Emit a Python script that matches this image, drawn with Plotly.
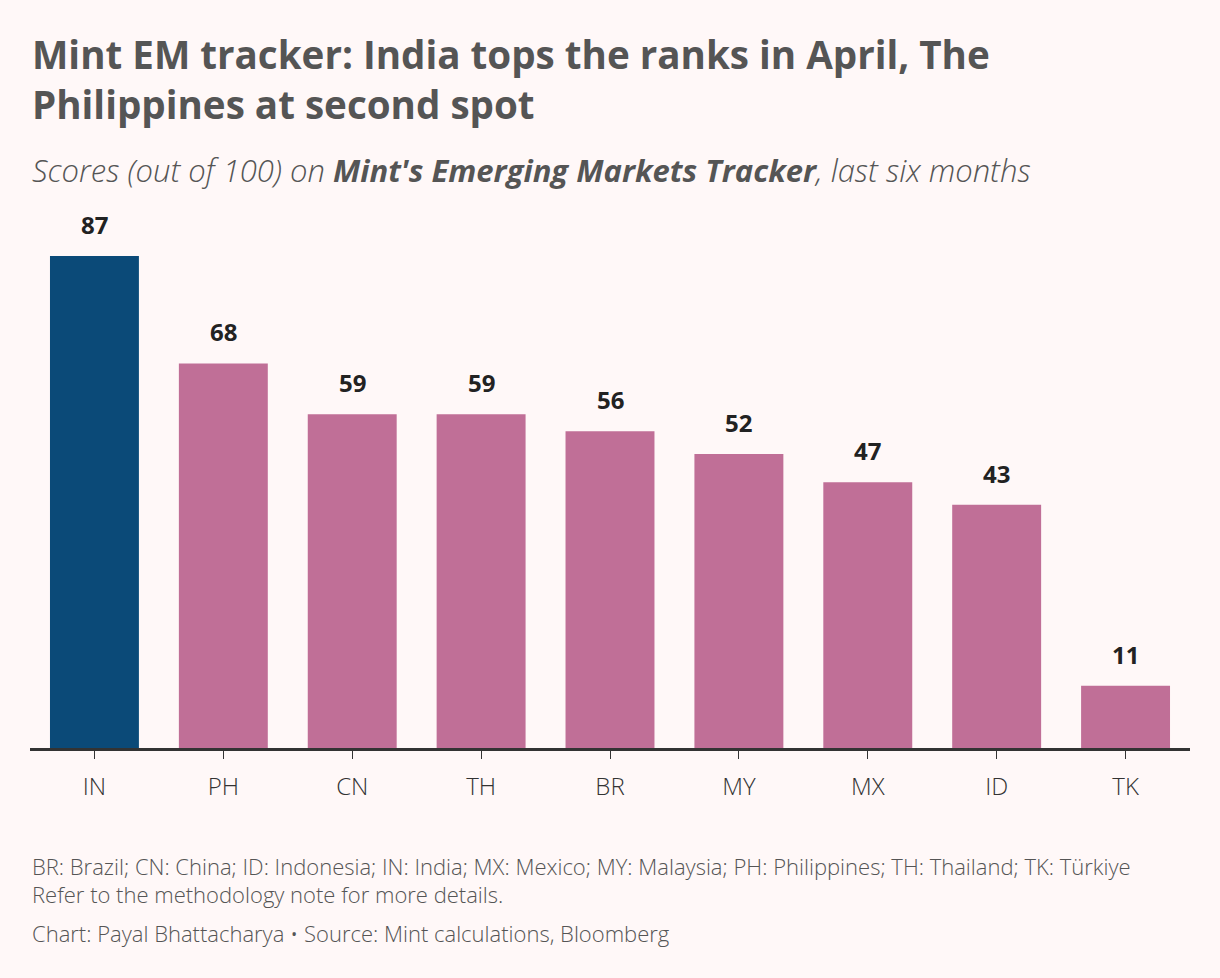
import plotly.graph_objects as go

categories = ["IN", "PH", "CN", "TH", "BR", "MY", "MX", "ID", "TK"]
scores = [87, 68, 59, 59, 56, 52, 47, 43, 11]
highlight = "IN"

NAVY = "#0b4a78"
PINK = "#c06f97"
BG = "#fff8f8"

colors = [NAVY if c == highlight else PINK for c in categories]

W, H = 1220, 978
top_px, bot_px = 215, 748
plot_h = bot_px - top_px

def py(px):
    return (bot_px - px) / plot_h

fig = go.Figure(go.Bar(
    x=categories, y=scores, marker=dict(color=colors, line=dict(width=0)),
    hoverinfo="skip",
))

ann = []
for c, v in zip(categories, scores):
    ann.append(dict(x=c, y=v, xref="x", yref="y", text=f"<b>{v}</b>", showarrow=False,
                    yanchor="bottom", yshift=13,
                    font=dict(family="Open Sans", size=24, color="#222222")))

ann.append(dict(x=0, y=py(26), xref="paper", yref="paper", xanchor="left", yanchor="top",
                align="left", showarrow=False,
                text="<b>Mint EM tracker: India tops the ranks in April, The<br>Philippines at second spot</b>",
                font=dict(family="Open Sans", size=38.6, color="#555555")))
ann.append(dict(x=0, y=py(170), xref="paper", yref="paper", xanchor="left", yanchor="middle",
                align="left", showarrow=False,
                text="<i>Scores (out of 100) on </i><b><i>Mint's Emerging Markets Tracker</i></b><i>, last six months</i>",
                font=dict(family="Open Sans", size=31, color="#555555", weight=300)))
foot_font = dict(family="Open Sans", size=22, color="#555555", weight=300)
ann.append(dict(x=0, y=py(866), xref="paper", yref="paper", xanchor="left", yanchor="middle",
                align="left", showarrow=False,
                text="BR: Brazil; CN: China; ID: Indonesia; IN: India; MX: Mexico; MY: Malaysia; PH: Philippines; TH: Thailand; TK: Türkiye",
                font=foot_font))
ann.append(dict(x=0, y=py(894), xref="paper", yref="paper", xanchor="left", yanchor="middle",
                align="left", showarrow=False,
                text="Refer to the methodology note for more details.",
                font=foot_font))
ann.append(dict(x=0, y=py(933), xref="paper", yref="paper", xanchor="left", yanchor="middle",
                align="left", showarrow=False,
                text="Chart: Payal Bhattacharya • Source: Mint calculations, Bloomberg",
                font=foot_font))

fig.update_layout(
    width=W, height=H,
    margin=dict(l=30, r=30, t=top_px, b=H - bot_px),
    paper_bgcolor=BG, plot_bgcolor=BG,
    bargap=0.31,
    showlegend=False,
    annotations=ann,
    xaxis=dict(showline=True, linecolor="#333333", linewidth=3, ticks="outside",
               ticklen=8, tickwidth=1, tickcolor="#333333",
               tickfont=dict(family="Open Sans", size=24, color="#333333", weight=300),
               showgrid=False, fixedrange=True, ticklabelstandoff=7),
    yaxis=dict(range=[0, 94.25], visible=False, showgrid=False, fixedrange=True),
)

fig.write_html(
    "out.html",
    config={"displayModeBar": False},
    post_script="document.body.style.margin='0';document.body.style.background='#fff8f8';document.body.style.overflow='hidden';",
)
